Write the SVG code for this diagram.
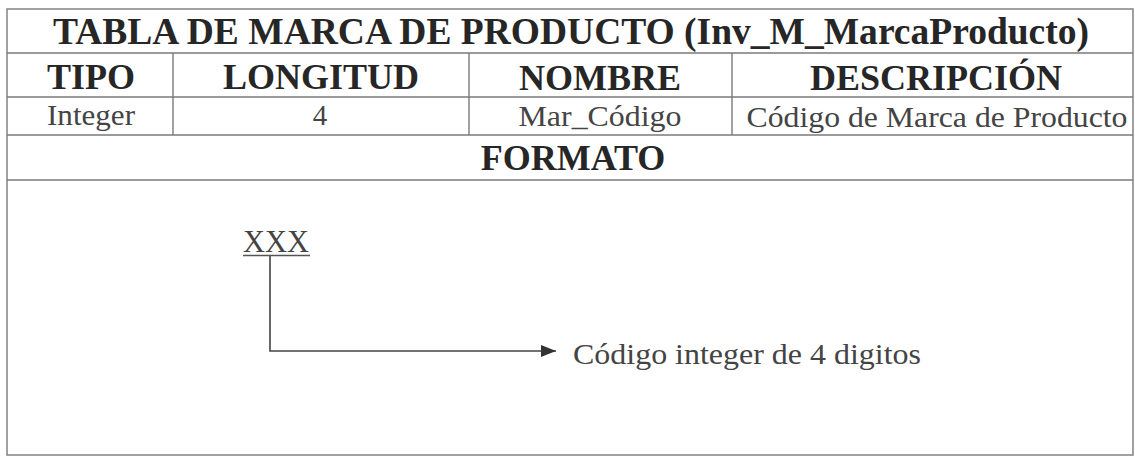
<svg xmlns="http://www.w3.org/2000/svg" width="1135" height="457" viewBox="0 0 1135 457">
  <style>
    .grid { stroke: #7a7a7a; stroke-width: 1.4; fill: none; }
    .hd { font-family: "Liberation Serif", "Times New Roman", serif; font-weight: bold; fill: #262626; text-anchor: middle; }
    .tx { font-family: "Liberation Serif", "Times New Roman", serif; fill: #444; text-anchor: middle; }
    .conn { stroke: #444; stroke-width: 1.6; fill: none; }
  </style>
  <defs>
    <marker id="arrow" markerWidth="15" markerHeight="12" refX="15" refY="6" orient="auto" markerUnits="userSpaceOnUse">
      <path d="M0,0 L15,6 L0,12 Z" fill="#333"/>
    </marker>
  </defs>
  <rect width="1135" height="457" fill="#ffffff"/>
  <g id="table">
    <rect class="grid" x="7" y="9" width="1126" height="446"/>
    <line class="grid" x1="7" y1="53" x2="1133" y2="53"/>
    <line class="grid" x1="7" y1="97" x2="1133" y2="97"/>
    <line class="grid" x1="7" y1="135" x2="1133" y2="135"/>
    <line class="grid" x1="7" y1="180" x2="1133" y2="180"/>
    <line class="grid" x1="173" y1="53" x2="173" y2="135"/>
    <line class="grid" x1="469" y1="53" x2="469" y2="135"/>
    <line class="grid" x1="732" y1="53" x2="732" y2="135"/>
  </g>
  <g id="title">
    <text class="hd" x="571" y="44" font-size="37" textLength="1036" lengthAdjust="spacingAndGlyphs">TABLA DE MARCA DE PRODUCTO (Inv_M_MarcaProducto)</text>
  </g>
  <g id="headers">
    <text class="hd" x="91" y="89" font-size="36">TIPO</text>
    <text class="hd" x="321" y="89" font-size="36">LONGITUD</text>
    <text class="hd" x="600" y="90" font-size="36">NOMBRE</text>
    <text class="hd" x="936" y="90" font-size="36">DESCRIPCIÓN</text>
  </g>
  <g id="row">
    <text class="tx" x="91" y="125" font-size="29" textLength="88" lengthAdjust="spacingAndGlyphs">Integer</text>
    <text class="tx" x="320" y="125" font-size="29">4</text>
    <text class="tx" x="600" y="126" font-size="29" textLength="163" lengthAdjust="spacingAndGlyphs">Mar_Código</text>
    <text class="tx" x="937" y="127" font-size="29" textLength="381" lengthAdjust="spacingAndGlyphs">Código de Marca de Producto</text>
  </g>
  <g id="formato">
    <text class="hd" x="573" y="170" font-size="36">FORMATO</text>
  </g>
  <g id="xxx">
    <text x="276" y="252" font-family="Liberation Serif, 'Times New Roman', serif" font-size="31" fill="#444" text-anchor="middle" textLength="66" lengthAdjust="spacingAndGlyphs">XXX</text>
    <line x1="243" y1="255.5" x2="310" y2="255.5" stroke="#555" stroke-width="1.3"/>
  </g>
  <g id="desc">
    <text x="573" y="364" font-family="Liberation Serif, 'Times New Roman', serif" font-size="30" fill="#444" textLength="348" lengthAdjust="spacingAndGlyphs">Código integer de 4 digitos</text>
  </g>
  <g id="connectors">
    <path class="conn" d="M270,256 L270,351 L556,351" marker-end="url(#arrow)"/>
  </g>
</svg>
